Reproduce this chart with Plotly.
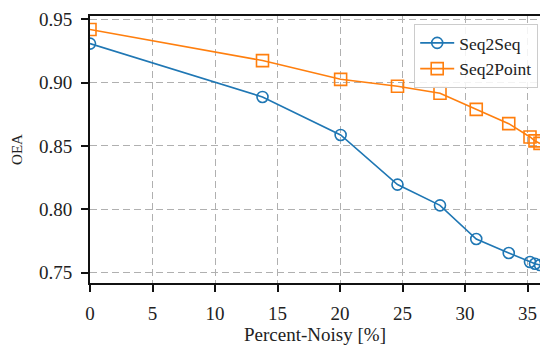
import plotly.graph_objects as go

percent_noisy = [0, 13.8, 20.05, 24.6, 28.0, 30.9, 33.5, 35.2, 35.6, 36.0]
seq2seq = [0.9308, 0.8887, 0.8587, 0.8195, 0.8031, 0.7765, 0.7655, 0.7584, 0.7570, 0.7560]
seq2point = [0.9419, 0.9174, 0.9026, 0.8971, 0.8916, 0.8789, 0.8676, 0.8571, 0.8540, 0.8520]
x_ticks = [0, 5, 10, 15, 20, 25, 30, 35]
y_ticks = [0.75, 0.80, 0.85, 0.90, 0.95]

FONT = "Liberation Serif"
fnt = dict(family=FONT, size=19, color="#222")

fig = go.Figure()
fig.add_trace(go.Scatter(
    x=percent_noisy, y=seq2seq, name="Seq2Seq", mode="lines+markers",
    line=dict(color="#1f77b4", width=1.6),
    marker=dict(symbol="circle-open", size=11, color="#1f77b4", line=dict(width=1.6)),
))
fig.add_trace(go.Scatter(
    x=percent_noisy, y=seq2point, name="Seq2Point", mode="lines+markers",
    line=dict(color="#ff7f0e", width=1.6),
    marker=dict(symbol="square-open", size=12, color="#ff7f0e", line=dict(width=1.6)),
))

grid = dict(showgrid=True, gridcolor="#b0b0b0", gridwidth=1.3, griddash="7px,4px")

fig.update_layout(
    width=540, height=345,
    margin=dict(l=90, r=0, t=16, b=62, autoexpand=False),
    paper_bgcolor="white", plot_bgcolor="white",
    font=fnt,
    showlegend=True,
    legend=dict(x=0.996, y=0.97, xanchor="right", yanchor="top",
                bgcolor="rgba(255,255,255,0.85)", bordercolor="#cccccc", borderwidth=1,
                font=dict(family=FONT, size=17.5, color="#222"), tracegroupgap=0, itemwidth=34),
    xaxis=dict(range=[0, 36], tickvals=x_ticks, ticks="outside", ticklen=7, tickwidth=1.8,
               tickcolor="#111", showline=True, linecolor="#111", linewidth=1.8, mirror=True,
               automargin=False, tickfont=fnt, ticklabelstandoff=5,
               zeroline=False, title=dict(text="Percent-Noisy [%]", standoff=1, font=fnt), **grid),
    yaxis=dict(range=[0.7418, 0.9526], tickvals=y_ticks, tickformat=".2f", ticks="outside",
               ticklen=7, tickwidth=1.8, tickcolor="#111", showline=True, linecolor="#111",
               linewidth=1.8, zeroline=False, automargin=False, tickfont=fnt, ticklabelstandoff=5,
               title=dict(text="OEA", standoff=13, font=dict(family=FONT, size=15, color="#222")),
               **grid),
)

fig.write_html("out.html", config={"displayModeBar": False},
               post_script="document.body.style.margin='0';document.body.style.overflow='hidden';")
